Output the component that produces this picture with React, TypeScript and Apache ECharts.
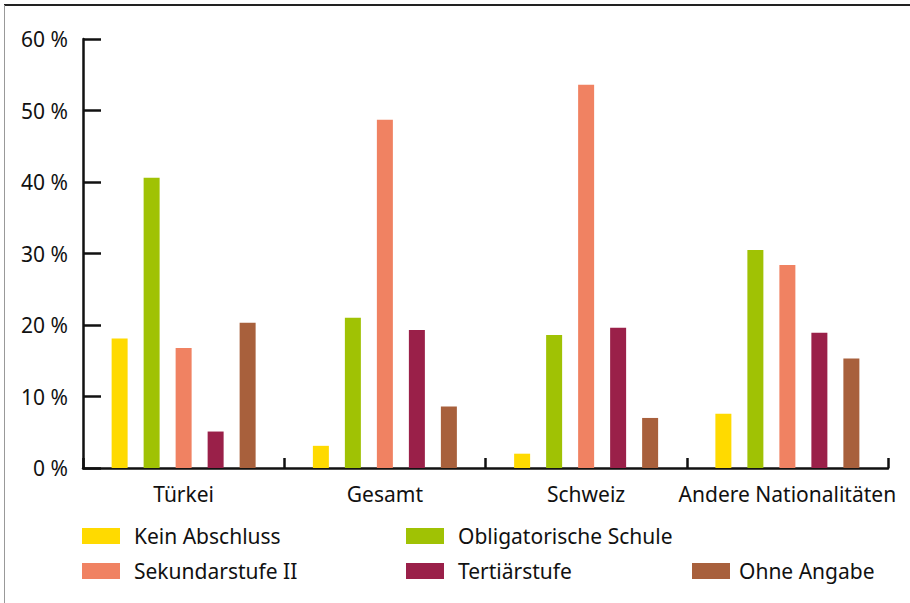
import React, { useEffect, useRef } from "react";
import * as echarts from "echarts";

const categories = ["Türkei", "Gesamt", "Schweiz", "Andere Nationalitäten"];
const seriesNames = ["Kein Abschluss", "Obligatorische Schule", "Sekundarstufe II", "Tertiärstufe", "Ohne Angabe"];
const keinAbschluss = [18.1, 3.1, 2.0, 7.6];
const obligatorisch = [40.6, 21.0, 18.6, 30.5];
const sekundar = [16.8, 48.7, 53.6, 28.4];
const tertiaer = [5.1, 19.3, 19.6, 18.9];
const ohneAngabe = [20.3, 8.6, 7.0, 15.3];
const colors = ["#FFDA00", "#A0C204", "#F08262", "#9A2049", "#A8603C"];

export default function App() {
  const ref = useRef<HTMLDivElement>(null);
  useEffect(() => {
    if (!ref.current) return;
    const chart = echarts.init(ref.current, null, { renderer: "svg" });
    const values = [keinAbschluss, obligatorisch, sekundar, tertiaer, ohneAngabe];
    const font = "'Noto Sans', sans-serif";
    const legendBase = (textPad: number) => ({
      orient: "vertical" as const,
      itemWidth: 38,
      itemHeight: 16,
      itemGap: 13,
      icon: "rect",
      padding: 0,
      textStyle: { fontFamily: font, fontSize: 21, color: "#111", padding: [0, 0, 0, textPad], lineHeight: 22 },
    });
    chart.setOption({
      animation: false,
      backgroundColor: "#fff",
      color: colors,
      grid: { left: 83, right: 22, top: 39, bottom: 135 },
      legend: [
        { ...legendBase(9), left: 82, top: 525, data: [seriesNames[0], seriesNames[2]] },
        { ...legendBase(9), left: 406, top: 525, data: [seriesNames[1], seriesNames[3]] },
        { ...legendBase(4), left: 692, top: 560, data: [seriesNames[4]] },
      ],
      xAxis: {
        type: "category",
        data: categories,
        boundaryGap: true,
        axisLine: { lineStyle: { color: "#111", width: 2.5 } },
        axisTick: { show: true, interval: 0, inside: true, length: 10, lineStyle: { color: "#111", width: 2.5 } },
        axisLabel: { interval: 0, fontFamily: font, fontSize: 21, color: "#111", margin: 15 },
      },
      yAxis: {
        type: "value",
        min: 0,
        max: 60,
        interval: 10,
        axisLine: { show: true, lineStyle: { color: "#111", width: 2.5 } },
        axisTick: { show: true, inside: true, length: 18, lineStyle: { color: "#111", width: 2.5 } },
        splitLine: { show: false },
        axisLabel: { fontFamily: font, fontSize: 21, color: "#111", margin: 15, formatter: "{value} %" },
      },
      series: seriesNames.map((name, i) => ({
        name,
        type: "bar",
        data: values[i],
        barWidth: 16,
        barGap: "100%",
        itemStyle: { color: colors[i] },
      })),
      graphic: [
        { type: "line", shape: { x1: 4, y1: 5, x2: 910, y2: 5 }, style: { stroke: "#222", lineWidth: 2 } },
        { type: "line", shape: { x1: 4.5, y1: 5, x2: 4.5, y2: 603 }, style: { stroke: "#999", lineWidth: 1 } },
      ],
    });
    return () => chart.dispose();
  }, []);
  return <div ref={ref} style={{ position: "fixed", left: 0, top: 0, width: 910, height: 603 }} />;
}
